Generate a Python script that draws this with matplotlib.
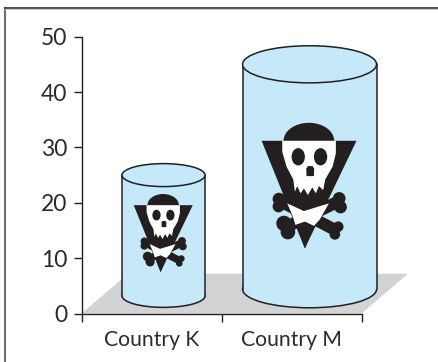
import matplotlib
matplotlib.use("Agg")
import matplotlib.pyplot as plt
from matplotlib.lines import Line2D
from matplotlib.patches import Ellipse, Polygon, Rectangle, Circle
from matplotlib.transforms import Affine2D

categories = ["Country K", "Country M"]
values = [25, 45]
y_ticks = [0, 10, 20, 30, 40, 50]

W, H = 438, 362
BLUE = "#c6e9fa"
DARK = "#231f20"
GREY = "#d1d3d4"
TEXT = "#2b2b2b"

# per cylinder: centre on the axis, width, ellipse height, base centre, icon centre, icon scale
centres = [0.586, 1.629]
widths = [0.593, 0.957]
cap_heights = [4.15, 6.7]
bases = [3.2, 4.4]
icon_y = [14.6, 23.2]
icon_scale = [0.207, 0.333]

plt.rcParams["font.family"] = ["Lato", "DejaVu Sans"]

fig = plt.figure(figsize=(W / 100, H / 100), dpi=100)
ax = fig.add_axes([81.5 / W, 1 - 313.6 / H, 280 / W, 277 / H])
ax.set_xlim(0, 2)
ax.set_ylim(0, 50)

for s in ["top", "right"]:
    ax.spines[s].set_visible(False)
for s in ["left", "bottom"]:
    ax.spines[s].set_linewidth(1.0)
    ax.spines[s].set_color(DARK)
    ax.spines[s].set_zorder(5)

ax.set_yticks(y_ticks)
ax.tick_params(axis="y", length=5.8, width=1.0, color=DARK, labelsize=16.5, labelcolor=TEXT, pad=4.5)
ax.set_xticks([0, 1, 2])
ax.set_xticklabels([])
ax.tick_params(axis="x", which="major", length=5.8, width=1.0, color=DARK)
ax.set_xticks([0.5, 1.5], categories, minor=True)
ax.tick_params(axis="x", which="minor", length=0, labelsize=15.2, labelcolor=TEXT, pad=11.5)

# floor
ax.add_patch(Polygon([(0, 0), (0.332, 7.2), (2.332, 7.2), (2, 0)], closed=True,
                     fc=GREY, ec="none", clip_on=False, zorder=1))


def draw_icon(xc, yc, s):
    # icon is sketched in its own coordinates, y pointing down
    px, py = ax.transData.transform((xc, yc))
    tr = Affine2D().translate(-177, -225).scale(s, -s).translate(px, py)

    def add(p):
        p.set_transform(tr)
        p.set_clip_on(False)
        p.set_zorder(4)
        fig.add_artist(p)

    # bones
    for (x0, y0), (x1, y1), knobs in [
        ((92, 275), (258, 362), [(85, 267, 19), (84, 289, 18), (263, 350, 16), (253, 373, 16)]),
        ((262, 275), (105, 352), [(266, 265, 19), (270, 291, 19), (100, 340, 23), (112, 366, 22)]),
    ]:
        add(Line2D([x0, x1], [y0, y1], color=DARK, lw=36 * s * 0.72, solid_capstyle="butt"))
        for kx, ky, r in knobs:
            add(Circle((kx, ky), r, fc=DARK, ec="none"))

    add(Polygon([(33, 92), (318, 92), (163, 415)], closed=True, fc=DARK, ec="none"))
    add(Ellipse((175, 92), 152, 108, fc=DARK, ec="none"))
    add(Polygon([(95, 92), (256, 92), (256, 130), (246, 170), (224, 208), (218, 240), (205, 228),
                 (196, 250), (185, 232), (172, 255), (160, 235), (150, 250), (140, 228),
                 (133, 245), (128, 208), (108, 170), (95, 125)],
                closed=True, fc="white", ec="none"))
    add(Ellipse((143, 140), 40, 52, fc=DARK, ec="none"))
    add(Ellipse((210, 140), 40, 52, fc=DARK, ec="none"))
    add(Polygon([(172, 168), (186, 168), (191, 176), (190, 198), (168, 198), (167, 176)],
                closed=True, fc=DARK, ec="none"))
    # white bow and the tip below it
    add(Polygon([(110, 280), (160, 303), (235, 280), (208, 328), (190, 348), (163, 335), (135, 345),
                 (125, 315)], closed=True, fc="white", ec="none"))
    add(Polygon([(135, 345), (163, 335), (190, 348), (163, 415)], closed=True, fc=DARK, ec="none"))


for xc, v, w, h, b, iy, sc in zip(centres, values, widths, cap_heights, bases, icon_y, icon_scale):
    ax.add_patch(Ellipse((xc, b), w, h, fc=BLUE, ec=DARK, lw=1.1, clip_on=False, zorder=2))
    ax.add_patch(Rectangle((xc - w / 2, b), w, v - b, fc=BLUE, ec="none", clip_on=False, zorder=2.1))
    ax.plot([xc - w / 2, xc - w / 2], [b, v], color=DARK, lw=1.1, clip_on=False, zorder=2.2)
    ax.plot([xc + w / 2, xc + w / 2], [b, v], color=DARK, lw=1.1, clip_on=False, zorder=2.2)
    ax.add_patch(Ellipse((xc, v), w, h, fc=BLUE, ec=DARK, lw=1.1, clip_on=False, zorder=2.3))
    draw_icon(xc, iy, sc)

# page frame
fig.add_artist(Line2D([5 / W, 5 / W], [0, 1 - 8 / H], color="#6d6e71", lw=1.5))
fig.add_artist(Line2D([5 / W, 1], [1 - 8.2 / H, 1 - 8.2 / H], color=DARK, lw=1.1))
fig.add_artist(Line2D([5 / W, 1], [1 - 9.4 / H, 1 - 9.4 / H], color="#c9c9c9", lw=0.8))

fig.savefig("out.png", dpi=100)
